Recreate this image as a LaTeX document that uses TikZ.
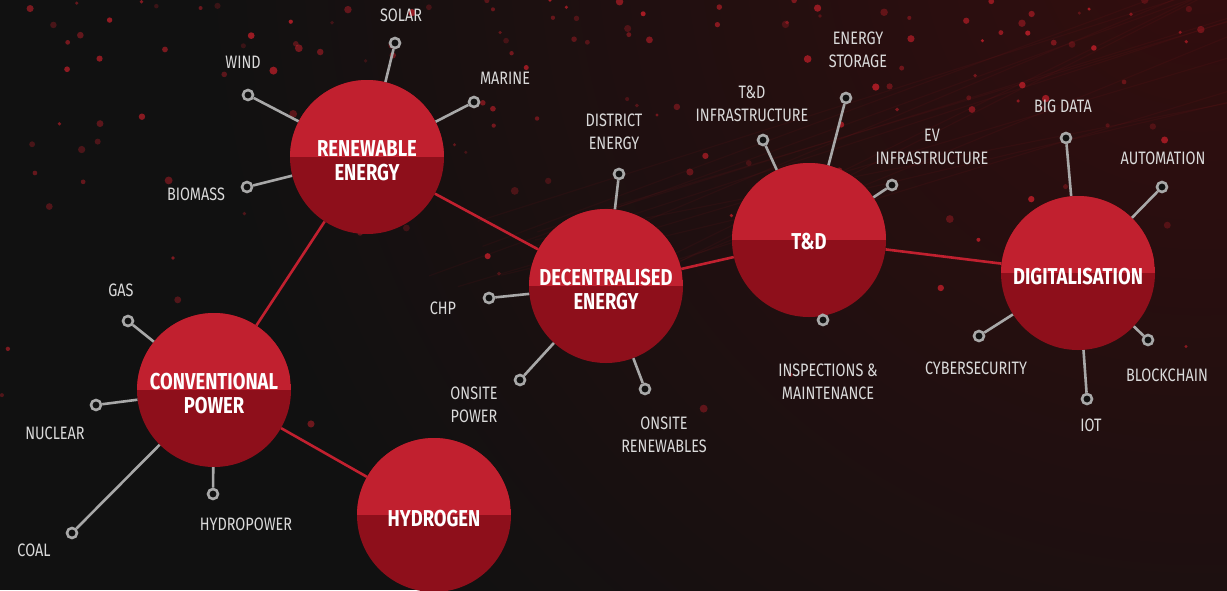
\documentclass[tikz,border=0pt]{standalone}
\usepackage{fontspec}
\newfontfamily\titlefont[FakeStretch=0.8]{Fira Sans}
\newfontfamily\labelfont[FakeStretch=0.8]{Fira Sans}
\definecolor{bgdark}{HTML}{111111}
\definecolor{glowred}{HTML}{330D0E}
\definecolor{redhi}{HTML}{C1202F}
\definecolor{redlo}{HTML}{8E0F1B}
\definecolor{dotred}{HTML}{D4202C}
\definecolor{spokegrey}{HTML}{A8A8A8}
\definecolor{labelgrey}{HTML}{DADADA}

\begin{document}
\begin{tikzpicture}[x=1pt,y=-1pt,
    hub/.style={circle,minimum size=154pt,inner sep=0pt,fill=redlo,
      path picture={\fill[redhi] (path picture bounding box.north west) rectangle (path picture bounding box.east);}},
    hubtext/.style={text=white,align=center,inner sep=0pt,
      font=\titlefont\bfseries\fontsize{23}{24}\selectfont},
    tip/.style={circle,draw=spokegrey,line width=2.6pt,fill=bgdark,minimum size=10pt,inner sep=0pt},
    lbl/.style={text=labelgrey,align=center,font=\labelfont\fontsize{18}{23}\selectfont},
    spoke/.style={draw=spokegrey,line width=2.6pt},
    link/.style={draw=redhi,line width=2.6pt}]

  % background
  \fill[bgdark] (0,0) rectangle (1227,590);
  \useasboundingbox (0,0) rectangle (1227,590);
  \begin{scope}
    \clip (0,0) rectangle (1227,590);
    \shade[inner color=glowred,outer color=bgdark] (1200,-60) circle[radius=1000pt];
    \pgfmathsetseed{42}
    \foreach \k in {1,...,14}{
      \pgfmathsetmacro{\sx}{420+rnd*260}
      \pgfmathsetmacro{\sy}{220+rnd*80}
      \pgfmathsetmacro{\ey}{-40+rnd*160}
      \draw[dotred,opacity=0.06,line width=1.2pt] (\sx,\sy) -- (1227,\ey);
    }
    \foreach \k in {1,...,150}{
      \pgfmathsetmacro{\dx}{rnd*1227}
      \pgfmathsetmacro{\dy}{rnd*rnd*430}
      \pgfmathsetmacro{\dr}{1.5+rnd*2.5}
      \pgfmathsetmacro{\da}{0.2+rnd*0.55}
      \fill[dotred,opacity=\da] (\dx,\dy) circle[radius=\dr pt];
    }
  \end{scope}

  % hubs
  \node[hub] (ren)  at (367,157) {};
  \node[hub] (conv) at (214,390) {};
  \node[hub] (hyd)  at (434,515) {};
  \node[hub] (dec)  at (606,286) {};
  \node[hub] (td)   at (809,240) {};
  \node[hub] (dig)  at (1078,273) {};

  \node[hubtext] (ren-t)  at ([yshift=-4pt]ren.center)  {RENEWABLE\\ENERGY};
  \node[hubtext] (conv-t) at ([yshift=-4pt]conv.center) {CONVENTIONAL\\POWER};
  \node[hubtext] (hyd-t)  at ([yshift=-4pt]hyd.center)  {HYDROGEN};
  \node[hubtext] (dec-t)  at ([yshift=-4pt]dec.center)  {DECENTRALISED\\ENERGY};
  \node[hubtext] (td-t)   at ([yshift=-2pt]td.center)   {T\&D};
  \node[hubtext] (dig-t)  at ([yshift=-4pt]dig.center)  {DIGITALISATION};

  % spoke ends
  \node[tip] (solar)   at (395,43)  {};
  \node[tip] (wind)    at (248,95)  {};
  \node[tip] (marine)  at (474,102) {};
  \node[tip] (biomass) at (247,187) {};
  \node[tip] (gas)     at (128,321) {};
  \node[tip] (nuclear) at (96,405)  {};
  \node[tip] (coal)    at (72,533)  {};
  \node[tip] (hydro)   at (213,494) {};
  \node[tip] (district) at (619,174) {};
  \node[tip] (chp)     at (489,298) {};
  \node[tip] (onpow)   at (520,380) {};
  \node[tip] (onren)   at (645,389) {};
  \node[tip] (tdinf)   at (763,140) {};
  \node[tip] (storage) at (846,98)  {};
  \node[tip] (evinf)   at (892,185) {};
  \node[tip] (inspect) at (823,320) {};
  \node[tip] (bigdata) at (1066,138) {};
  \node[tip] (auto)    at (1162,187) {};
  \node[tip] (cyber)   at (979,336) {};
  \node[tip] (block)   at (1148,340) {};
  \node[tip] (iot)     at (1087,399) {};

  % labels
  \node[lbl] (l-solar)   at (401,15)  {SOLAR};
  \node[lbl] (l-wind)    at (243,62)  {WIND};
  \node[lbl] (l-marine)  at (505,78)  {MARINE};
  \node[lbl] (l-biomass) at (196,194) {BIOMASS};
  \node[lbl] (l-gas)     at (121,290) {GAS};
  \node[lbl] (l-nuclear) at (55,433)  {NUCLEAR};
  \node[lbl] (l-coal)    at (34,550)  {COAL};
  \node[lbl] (l-hydro)   at (246,524) {HYDROPOWER};
  \node[lbl] (l-district) at (614,132) {DISTRICT\\ENERGY};
  \node[lbl] (l-chp)     at (443,308) {CHP};
  \node[lbl] (l-onpow)   at (474,405) {ONSITE\\POWER};
  \node[lbl] (l-onren)   at (664,435) {ONSITE\\RENEWABLES};
  \node[lbl] (l-tdinf)   at (752,104) {T\&D\\INFRASTRUCTURE};
  \node[lbl] (l-storage) at (858,50)  {ENERGY\\STORAGE};
  \node[lbl] (l-evinf)   at (932,147) {EV\\INFRASTRUCTURE};
  \node[lbl] (l-inspect) at (828,382) {INSPECTIONS \&\\MAINTENANCE};
  \node[lbl] (l-bigdata) at (1063,106) {BIG DATA};
  \node[lbl] (l-auto)    at (1163,158) {AUTOMATION};
  \node[lbl] (l-cyber)   at (976,368) {CYBERSECURITY};
  \node[lbl] (l-block)   at (1167,375) {BLOCKCHAIN};
  \node[lbl] (l-iot)     at (1091,425) {IOT};

  % connections
  \path[link] (ren) edge (conv)
                    edge (dec)
              (conv) edge (hyd)
              (dec) edge (td)
              (td) edge (dig);

  \path[spoke] (ren) edge (solar) edge (wind) edge (marine) edge (biomass)
               (conv) edge (gas) edge (nuclear) edge (coal) edge (hydro)
               (dec) edge (district) edge (chp) edge (onpow) edge (onren)
               (td) edge (tdinf) edge (storage) edge (evinf) edge (inspect)
               (dig) edge (bigdata) edge (auto) edge (cyber) edge (block) edge (iot);
\end{tikzpicture}
\end{document}
